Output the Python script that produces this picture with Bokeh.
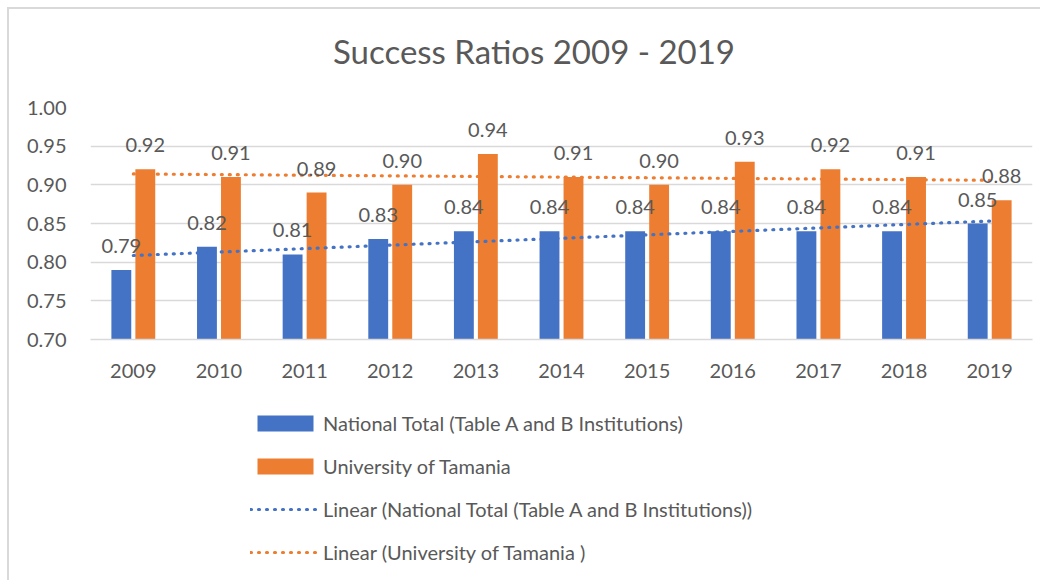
import numpy as np
from bokeh.plotting import figure
from bokeh.layouts import column
from bokeh.models import (ColumnDataSource, Legend, LegendItem, FixedTicker,
                          NumeralTickFormatter, Range1d, FactorRange, Label)
from bokeh.transform import dodge
from bokeh.core.properties import value
from bokeh.embed import file_html
from bokeh.resources import INLINE

title_text = "Success Ratios 2009 - 2019"
years = ["2009", "2010", "2011", "2012", "2013", "2014", "2015", "2016", "2017", "2018", "2019"]
national = [0.79, 0.82, 0.81, 0.83, 0.84, 0.84, 0.84, 0.84, 0.84, 0.84, 0.85]
tasmania = [0.92, 0.91, 0.89, 0.90, 0.94, 0.91, 0.90, 0.93, 0.92, 0.91, 0.88]
y_ticks = [0.70, 0.75, 0.80, 0.85, 0.90, 0.95, 1.00]

series_names = ["National Total (Table A and B Institutions)", "University of Tamania"]
trend_names = ["Linear (National Total (Table A and B Institutions))", "Linear (University of Tamania )"]

BLUE = "#4472C4"
ORANGE = "#ED7D31"
TEXT = "#595959"
GRID = "#D9D9D9"
FONT = "Lato"

idx = np.arange(len(years))
nat_fit = np.polyval(np.polyfit(idx, national, 1), idx)
tas_fit = np.polyval(np.polyfit(idx, tasmania, 1), idx)

src = ColumnDataSource(dict(
    year=years,
    nat=national,
    tas=tasmania,
    nat_lbl=[f"{v:.2f}" for v in national],
    tas_lbl=[f"{v:.2f}" for v in tasmania],
    nat_fit=nat_fit,
    tas_fit=tas_fit,
))

OFF = 9  # outer margin + border
W = 1040 - OFF
LEFT = 90 - OFF
RIGHT = 8

# ---- header with the title ----
hd = figure(width=W, height=70, output_backend="svg", toolbar_location=None,
            title_location=None,
            x_range=Range1d(90, 1032), y_range=Range1d(0, 70),
            min_border_left=LEFT, min_border_right=RIGHT, min_border_top=0, min_border_bottom=0)
hd.axis.visible = False
hd.grid.grid_line_color = None
hd.outline_line_color = None
hd.add_layout(Label(x=533.5, y=29, text=title_text, text_align="center",
                    text_baseline="middle", text_font=FONT, text_font_size="33px",
                    text_color=TEXT))

# ---- main chart ----
p = figure(x_range=FactorRange(*years), y_range=Range1d(0.70, 1.00),
           width=W, height=316, output_backend="svg", toolbar_location=None,
           title_location=None,
           min_border_left=LEFT, min_border_right=RIGHT, min_border_top=28,
           min_border_bottom=56)
p.x_range.range_padding = 0
p.outline_line_color = None
p.background_fill_color = "white"
p.border_fill_color = "white"

b1 = p.vbar(x=dodge("year", -0.14, range=p.x_range), top="nat", bottom=0.70, width=0.232,
            source=src, fill_color=BLUE, line_color=None)
b2 = p.vbar(x=dodge("year", 0.14, range=p.x_range), top="tas", bottom=0.70, width=0.232,
            source=src, fill_color=ORANGE, line_color=None)

p.line(x="year", y="nat_fit", source=src, line_color=BLUE, line_width=3.2,
       line_dash="1 7", line_cap="round")
p.line(x="year", y="tas_fit", source=src, line_color=ORANGE, line_width=3.2,
       line_dash="1 7", line_cap="round")

p.text(x=dodge("year", -0.14, range=p.x_range), y="nat", text="nat_lbl", source=src,
       text_align="center", text_baseline="middle", y_offset=-24,
       text_font=value(FONT), text_font_size="20px", text_color=TEXT)
p.text(x=dodge("year", 0.14, range=p.x_range), y="tas", text="tas_lbl", source=src,
       text_align="center", text_baseline="middle", y_offset=-24,
       text_font=value(FONT), text_font_size="20px", text_color=TEXT)

p.xgrid.grid_line_color = None
p.ygrid.grid_line_color = GRID
p.ygrid.grid_line_width = 1.5
p.yaxis.ticker = FixedTicker(ticks=y_ticks)
p.yaxis.formatter = NumeralTickFormatter(format="0.00")
p.yaxis.axis_line_color = None
p.yaxis.major_tick_line_color = None
p.yaxis.minor_tick_line_color = None
p.yaxis.major_label_standoff = 18
p.xaxis.axis_line_color = GRID
p.xaxis.axis_line_width = 1.5
p.xaxis.major_tick_line_color = None
p.xaxis.minor_tick_line_color = None
p.xaxis.major_label_standoff = 18
for ax in (p.xaxis, p.yaxis):
    ax.major_label_text_font = FONT
    ax.major_label_text_font_size = "20px"
    ax.major_label_text_color = TEXT

# ---- legend panel (separate figure so the legend is not clipped) ----
lf = figure(width=W, height=185, output_backend="svg", toolbar_location=None,
            title_location=None,
            x_range=Range1d(0, 1), y_range=Range1d(0, 1),
            min_border_left=LEFT, min_border_right=RIGHT, min_border_top=0, min_border_bottom=0)
lf.axis.visible = False
lf.grid.grid_line_color = None
lf.outline_line_color = None
# swatch renderers: zero-size marks outside the visible range
swatch = ColumnDataSource(dict(x=[5.0], top=[0.0], y=[5.0]))
lb1 = lf.vbar(x="x", top="top", bottom=0.0, width=0.0, source=swatch, fill_color=BLUE, line_color=None)
lb2 = lf.vbar(x="x", top="top", bottom=0.0, width=0.0, source=swatch, fill_color=ORANGE, line_color=None)
ll1 = lf.line(x="x", y="y", source=swatch, line_color=BLUE, line_width=3.2,
              line_dash="1 7", line_cap="round")
ll2 = lf.line(x="x", y="y", source=swatch, line_color=ORANGE, line_width=3.2,
              line_dash="1 7", line_cap="round")

legend = Legend(items=[
    LegendItem(label=series_names[0], renderers=[lb1]),
    LegendItem(label=series_names[1], renderers=[lb2]),
    LegendItem(label=trend_names[0], renderers=[ll1]),
    LegendItem(label=trend_names[1], renderers=[ll2]),
], location=(160, 16), orientation="vertical", padding=0, margin=0,
    border_line_alpha=0, background_fill_alpha=0,
    glyph_width=70, glyph_height=20, label_standoff=3, spacing=19, label_height=20,
    label_text_font=FONT, label_text_font_size="20px", label_text_color=TEXT)
lf.add_layout(legend)

layout = column(hd, p, lf, spacing=0)
layout.styles = {"margin-left": "7px", "margin-top": "7px",
                 "border-left": "2px solid #D9D9D9", "border-top": "2px solid #D9D9D9"}
open("out.html", "w").write(file_html(layout, INLINE))
